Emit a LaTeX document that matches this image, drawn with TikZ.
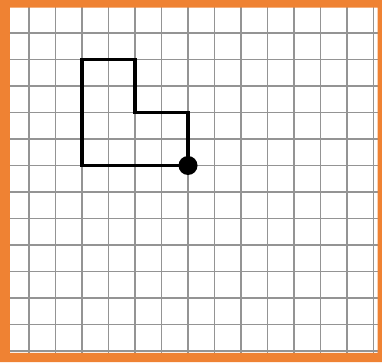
\documentclass[tikz,border=0pt]{standalone}
\definecolor{frameorange}{HTML}{EF8233}
\begin{document}
\begin{tikzpicture}[x=26.5pt, y=26.5pt, line join=miter, line cap=rect]
 \tikzset{gridline/.style={black!42, line width=1.8pt, line cap=butt},
          shapeline/.style={black, line width=3.4pt}}
 \useasboundingbox (-1.0943,-0.4151) rectangle (13.3208,13.2453);
 % squared paper
 \draw[gridline, step=1] (-0.8,-0.2) grid (13.2,13.1);
 % the L-shaped figure
 \draw[shapeline] (2,11)--(4,11)--(4,9)--(6,9)--(6,7)--(2,7)--cycle;
 \coordinate (corner) at (6,7);
 \fill (corner) circle (9.5pt);
 % orange frame
 \fill[frameorange, even odd rule] (-1.0943,-0.4151) rectangle (13.3208,13.2453)
   (-0.717,-0.075) rectangle (13.151,12.962);
\end{tikzpicture}
\end{document}
